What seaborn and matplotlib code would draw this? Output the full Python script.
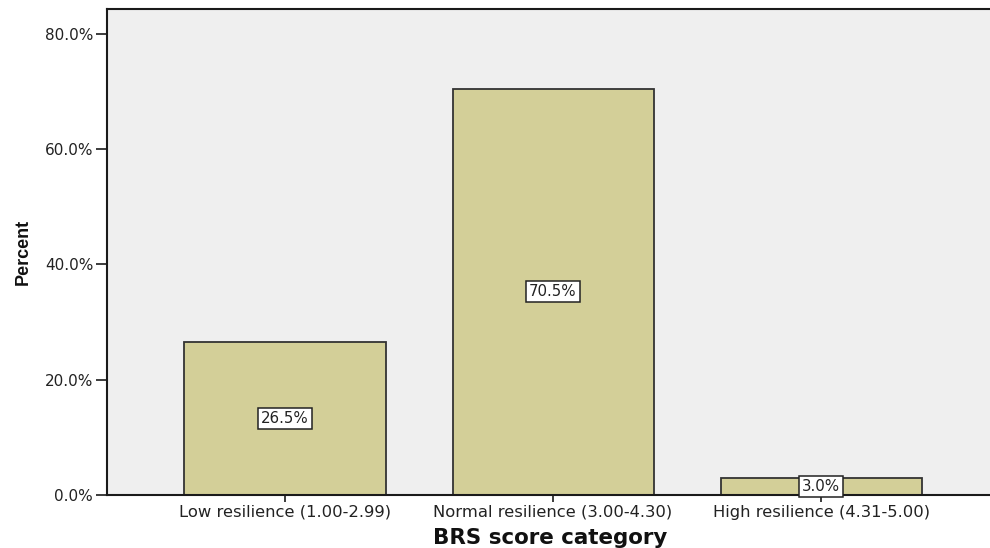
import matplotlib
matplotlib.use("Agg")
import matplotlib.pyplot as plt
import seaborn as sns
import pandas as pd

categories = ["Low resilience (1.00-2.99)",
              "Normal resilience (3.00-4.30)",
              "High resilience (4.31-5.00)"]
percent = [26.5, 70.5, 3.0]
yticks = [0, 20, 40, 60, 80]

df = pd.DataFrame({"category": categories, "percent": percent})

sns.set_style("white")
plt.rcParams["font.family"] = ["DejaVu Sans"]

fig = plt.figure(figsize=(9.9, 5.48), dpi=100)
ax = fig.add_axes([0.1081, 0.0967, 0.8919 + 0.004, 0.8869])
ax.set_facecolor("#efefef")

sns.barplot(data=df, x="category", y="percent", ax=ax,
            color="#d3cf98", saturation=1, width=0.75,
            edgecolor="#333333", linewidth=1.3)

# value labels in white boxes at mid-height of each bar
for i, v in enumerate(percent):
    ax.text(i, v / 2, f"{v:.1f}%", ha="center", va="center", fontsize=10.8,
            color="#222222", zorder=5,
            bbox=dict(boxstyle="square,pad=0.2", facecolor="white",
                      edgecolor="#222222", linewidth=1.1))

ax.set_xlim(-0.664, 2.645)
ax.set_ylim(0, 84.3)
ax.set_yticks(yticks)
ax.set_yticklabels([f"{t:.1f}%" for t in yticks])

for side in ["left", "bottom", "top"]:
    ax.spines[side].set_visible(True)
    ax.spines[side].set_color("#1a1a1a")
    ax.spines[side].set_linewidth(1.5)
ax.spines["right"].set_visible(False)

ax.tick_params(axis="y", which="major", direction="out", length=8,
               width=1.2, color="#1a1a1a", labelsize=11, labelcolor="#222222",
               left=True, pad=2)
ax.tick_params(axis="x", which="major", direction="out", length=5,
               width=1.2, color="#1a1a1a", labelsize=11.8, labelcolor="#222222",
               bottom=True, pad=2)

ax.set_xlabel("BRS score category", fontsize=15.4, fontweight="bold",
              color="#111111", labelpad=6)
ax.set_ylabel("Percent", fontsize=13, fontweight="bold", color="#111111",
              labelpad=9, family=["Liberation Sans"])

fig.savefig("out.png", dpi=100, facecolor="white")
